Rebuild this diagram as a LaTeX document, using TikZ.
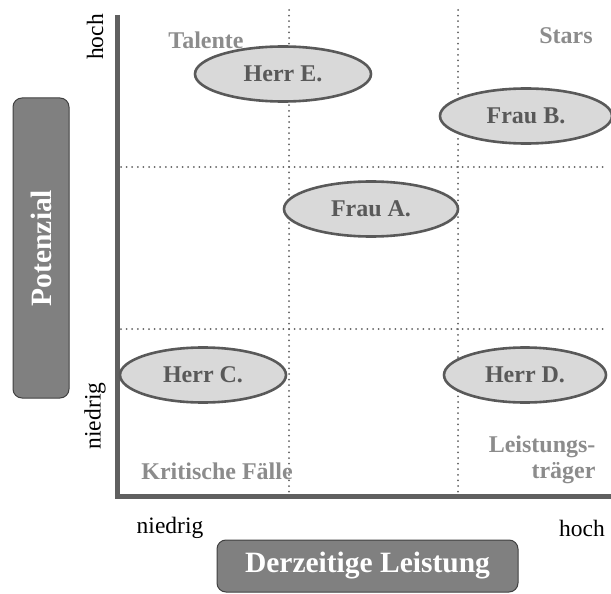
\documentclass[tikz,border=0pt]{standalone}
\usepackage{fontspec}
\setmainfont{Liberation Serif}
\usetikzlibrary{shapes.geometric}
\definecolor{axisgray}{HTML}{606060}
\definecolor{persongray}{HTML}{595959}
\definecolor{fillgray}{HTML}{D9D9D9}
\definecolor{labelgray}{HTML}{8C8C8C}
\definecolor{boxgray}{HTML}{808080}
\tikzset{
  person/.style={ellipse,draw=persongray,fill=fillgray,line width=2.6pt,inner sep=1pt,minimum width=176pt,minimum height=55pt,
    text=persongray,font=\fontsize{24}{26}\selectfont\bfseries},
  field/.style={text=labelgray,font=\fontsize{24}{26}\selectfont\bfseries,align=center},
  gridline/.style={axisgray,line width=2pt,line cap=round,dash pattern=on 0pt off 5.6pt},
  ticklabel/.style={font=\fontsize{23.5}{26}\selectfont},
  axisbox/.style={draw=black!75,fill=boxgray,rounded corners=9pt,line width=1pt,text=white,
    font=\fontsize{29.5}{32}\selectfont\bfseries}
}
\begin{document}
\begin{tikzpicture}[x=1pt,y=-1pt]
		\useasboundingbox(0,0)rectangle(611,594);
		% raster
		\draw[gridline](289,10)--(289,494);
		\draw[gridline](458,10)--(458,494);
		\draw[gridline](121,167)--(605,167);
		\draw[gridline](121,329)--(605,329);
		% achsen
		\draw[axisgray,line width=4.5pt](117.5,15)--(117.5,496.5)--(611,496.5);
		% felder
		\node[field](talente)at(206,40){Talente};
		\node[field](stars)at(566,36){Stars};
		\node[field](kritisch)at(217,471){Kritische Fälle};
		\node[field,align=right,anchor=east,font=\fontsize{24}{26}\selectfont\bfseries](leistungstraeger)at(599,460){Leistungs-\\träger};
		% personen
		\node[person](herrE)at(283,74){Herr E.};
		\node[person,minimum width=172pt](frauB)at(526,116){Frau B.};
		\node[person,minimum width=174pt](frauA)at(371,209){Frau A.};
		\node[person,minimum width=166pt](herrC)at(203,375){Herr C.};
		\node[person,minimum width=162pt](herrD)at(525,375){Herr D.};
		% beschriftung
		\node[ticklabel,rotate=90](yhoch)at(95,37){hoch};
		\node[ticklabel,rotate=90](yniedrig)at(95,416){niedrig};
		\node[ticklabel](xniedrig)at(170,528){niedrig};
		\node[ticklabel](xhoch)at(582,528){hoch};
		\node[axisbox,minimum width=301pt,minimum height=52pt](leistung)at(367.5,566){Derzeitige Leistung};
		\node[axisbox,rotate=90,minimum width=300pt,minimum height=56pt](potenzial)at(41,248){Potenzial};
	\end{tikzpicture}
\end{document}
